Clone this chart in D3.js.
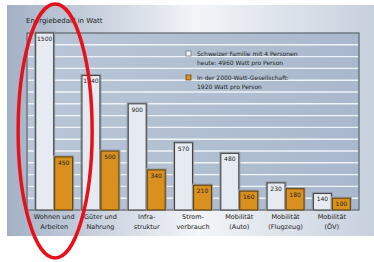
<!DOCTYPE html>
<html>
<head>
<meta charset="utf-8">
<script src="https://cdn.jsdelivr.net/npm/d3@7"></script>
<style>
  body { margin: 0; background: #fff; }
  text { font-family: "DejaVu Sans", sans-serif; fill: #222; }
</style>
</head>
<body>
<div id="chart"></div>
<script>
var categories = [
  ['Wohnen und', 'Arbeiten'],
  ['Güter und', 'Nahrung'],
  ['Infra-', 'struktur'],
  ['Strom-', 'verbrauch'],
  ['Mobilität', '(Auto)'],
  ['Mobilität', '(Flugzeug)'],
  ['Mobilität', '(ÖV)']
];
var heute = [1500, 1140, 900, 570, 480, 230, 140];
var ziel = [450, 500, 340, 210, 160, 180, 100];
var gridValues = d3.range(100, 1500, 100);
var legendLines = [
  ['Schweizer Familie mit 4 Personen', 'heute: 4960 Watt pro Person'],
  ['In der 2000-Watt-Gesellschaft:', '1920 Watt pro Person']
];

var W = 374, H = 262;
var plot = { left: 27, top: 33, right: 359, bottom: 210 };

var svg = d3.select('#chart').append('svg').attr('width', W).attr('height', H);
var defs = svg.append('defs');

var bg = defs.append('linearGradient').attr('id', 'bg').attr('x1', 0).attr('x2', 1).attr('y1', 0).attr('y2', 0);
bg.append('stop').attr('offset', '0%').attr('stop-color', '#a3b1c6');
bg.append('stop').attr('offset', '52%').attr('stop-color', '#f3f5f8');
bg.append('stop').attr('offset', '100%').attr('stop-color', '#c6d0dd');

var pg = defs.append('linearGradient').attr('id', 'pg').attr('x1', 0).attr('x2', 1).attr('y1', 0).attr('y2', 0);
pg.append('stop').attr('offset', '0%').attr('stop-color', '#b9c6d7');
pg.append('stop').attr('offset', '100%').attr('stop-color', '#a9b8cc');

svg.append('rect').attr('x', 7).attr('y', 5).attr('width', W - 7).attr('height', 231).attr('fill', 'url(#bg)');

var x0 = d3.scaleBand().domain(d3.range(categories.length)).range([31, 355]).paddingInner(0.18).paddingOuter(0.09);
var x1 = d3.scaleBand().domain([0, 1]).range([0, x0.bandwidth()]);
var y = d3.scaleLinear().domain([0, 1500]).range([plot.bottom, plot.top]);

// plot area
svg.append('rect').attr('x', plot.left).attr('y', plot.top)
  .attr('width', plot.right - plot.left).attr('height', plot.bottom - plot.top)
  .attr('fill', 'url(#pg)').attr('stroke', '#5f646c').attr('stroke-width', 1.2);

svg.append('g').selectAll('line').data(gridValues).enter().append('line')
  .attr('x1', plot.left + 1).attr('x2', plot.right - 1)
  .attr('y1', function (d) { return y(d); }).attr('y2', function (d) { return y(d); })
  .attr('stroke', '#f0f3f8').attr('stroke-width', 1.4);

svg.append('text').attr('x', 26).attr('y', 23).style('font-size', '7px').text('Energiebedarf in Watt');

// legend
var legend = svg.append('g').attr('transform', 'translate(186, 52)');
legendLines.forEach(function (lines, i) {
  var gy = i * 24;
  legend.append('rect').attr('x', 0).attr('y', gy - 1).attr('width', 5).attr('height', 5)
    .attr('fill', i === 0 ? '#f1f3f6' : '#d9901f').attr('stroke', i === 0 ? '#777' : '#6b4a10').attr('stroke-width', 0.8);
  lines.forEach(function (t, j) {
    legend.append('text').attr('x', 11).attr('y', gy + 4 + j * 9).style('font-size', '6px').text(t);
  });
});

function drawBars(values, k, fill, stroke) {
  var g = svg.append('g');
  // light outer rim
  g.selectAll('rect.rim').data(values).enter().append('rect').attr('class', 'rim')
    .attr('x', function (d, i) { return x0(i) + x1(k) - 0.5; })
    .attr('y', function (d) { return y(d) - 1; })
    .attr('width', x1.bandwidth() + 1)
    .attr('height', function (d) { return plot.bottom - y(d) + 1; })
    .attr('fill', 'none').attr('stroke', '#9ba3ad').attr('stroke-width', 1.2);
  g.selectAll('rect.bar').data(values).enter().append('rect').attr('class', 'bar')
    .attr('x', function (d, i) { return x0(i) + x1(k) + 0.5; })
    .attr('y', function (d) { return y(d); })
    .attr('width', x1.bandwidth() - 1)
    .attr('height', function (d) { return plot.bottom - y(d); })
    .attr('fill', fill).attr('stroke', stroke).attr('stroke-width', 1.1);
  g.selectAll('text').data(values).enter().append('text')
    .attr('x', function (d, i) { return x0(i) + x1(k) + x1.bandwidth() / 2; })
    .attr('y', function (d) { return y(d) + 8; })
    .attr('text-anchor', 'middle').style('font-size', '6px')
    .text(function (d) { return d; });
}
drawBars(heute, 0, '#e6ebf2', '#444');
drawBars(ziel, 1, '#d9901f', '#5e400c');

// category labels
var cats = svg.append('g');
categories.forEach(function (lines, i) {
  lines.forEach(function (t, j) {
    cats.append('text').attr('x', x0(i) + x0.bandwidth() / 2).attr('y', 219 + j * 10)
      .attr('text-anchor', 'middle').style('font-size', '6.5px').text(t);
  });
});

// red ellipse annotation around the first group
svg.append('ellipse')
  .attr('cx', x0(0) + x0.bandwidth() / 2 + 1).attr('cy', 131)
  .attr('rx', 37).attr('ry', 127)
  .attr('fill', 'none').attr('stroke', '#e8101a').attr('stroke-width', 3.5);
</script>
</body>
</html>
